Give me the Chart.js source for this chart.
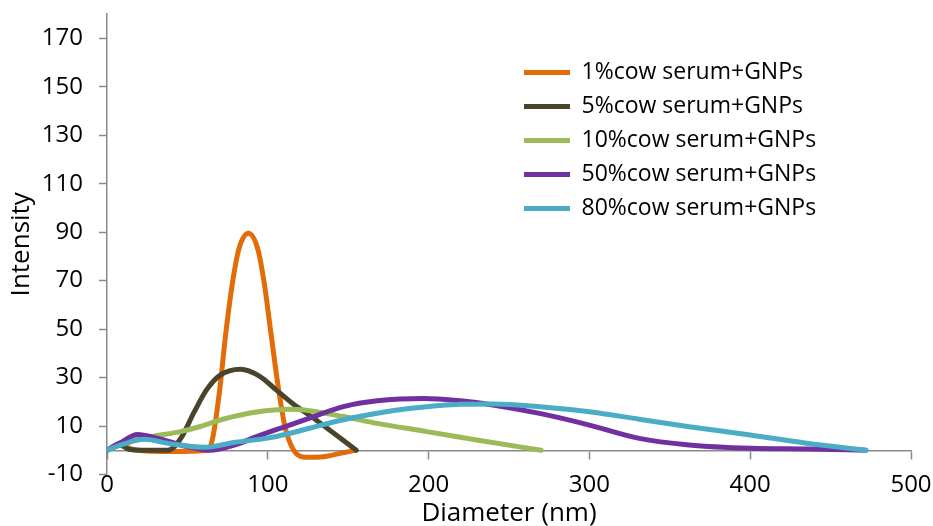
<!DOCTYPE html>
<html>
<head>
<meta charset="utf-8">
<script src="https://cdn.jsdelivr.net/npm/chart.js@4.4.1/dist/chart.umd.min.js"></script>
<style>
  html, body { margin: 0; padding: 0; background: #fff; }
  canvas { display: block; }
</style>
</head>
<body>
<canvas id="chart" width="933" height="526"></canvas>
<script>
// series labels + colours
const seriesNames = [
  "1%cow serum+GNPs",
  "5%cow serum+GNPs",
  "10%cow serum+GNPs",
  "50%cow serum+GNPs",
  "80%cow serum+GNPs"
];
const seriesColors = ["#E36C09", "#4A452A", "#9BBB59", "#7030A0", "#4BACC6"];

// diameter (nm) / intensity
const diam1 = [0, 8, 18, 40, 63, 66, 70, 74, 78, 82, 88, 94, 98, 102, 106.5, 110.7, 116, 124, 133, 145, 154];
const int1  = [0, 2, 0, -0.5, 0, 6, 24.5, 49, 69, 83, 89.5, 82.5, 68, 48, 26, 9.7, 0.1, -2.9, -2.8, -1.3, 0];

const diam2 = [0, 7.5, 14, 25, 38, 46, 54, 62, 70, 83, 95, 105, 115, 130, 155];
const int2  = [0, 2.5, 0.3, 0, 0, 5, 15.5, 25, 30.8, 33.4, 30.5, 25, 19.5, 12.5, 0];

const diam3 = [0, 10, 29, 45, 58, 72, 93, 114, 126, 147, 168, 199, 230, 270];
const int3  = [0, 3, 5.8, 7.6, 9.8, 12.8, 15.8, 16.9, 16.3, 13.9, 11.1, 7.7, 4.2, 0];

const diam4 = [0, 8, 19, 31, 50, 64, 80, 93, 114, 126, 147, 168, 197, 220, 240, 269, 300, 331, 362, 400, 435, 472];
const int4  = [0, 3, 6.5, 5, 1.5, 0, 2.3, 5.6, 10.5, 13.3, 18, 20.4, 21.4, 20.4, 18.7, 15.2, 10.4, 4.9, 2.2, 0.8, 0.5, 0];

const diam5 = [0, 10, 23, 40, 60, 80, 100, 114, 126, 147, 168, 188, 220, 240, 269, 300, 331, 362, 400, 435, 472];
const int5  = [0, 2.5, 4.5, 2.6, 1.2, 3.3, 5, 7, 9.1, 12.6, 15.3, 17.2, 19, 19.1, 18, 15.9, 12.8, 9.7, 6.3, 2.9, 0];

const yTicks = [-10, 10, 30, 50, 70, 90, 110, 130, 150, 170];

const diams = [diam1, diam2, diam3, diam4, diam5];
const ints = [int1, int2, int3, int4, int5];

const axisGray = "#8a8a8a";
const fontFam = "'Open Sans', sans-serif";
Chart.defaults.color = "#000";
Chart.defaults.font.family = fontFam;

// excel draws later series on top, chart.js does the opposite -> flip order
const datasets = seriesNames.map((name, i) => ({
  label: name,
  data: diams[i].map((x, j) => ({ x: x, y: ints[i][j] })),
  borderColor: seriesColors[i],
  backgroundColor: seriesColors[i],
  borderWidth: 5,
  borderCapStyle: "round",
  borderJoinStyle: "round",
  pointRadius: 0,
  pointHoverRadius: 0,
  cubicInterpolationMode: "monotone",
  fill: false,
  order: seriesNames.length - i
}));

// put the legend box inside the plot, upper right
const legendSpot = {
  id: "legendSpot",
  afterLayout(chart) {
    const lg = chart.legend;
    if (!lg) return;
    lg.left = chart.chartArea.left + 406;
    lg.top = chart.chartArea.top + 36;
  }
};

new Chart(document.getElementById("chart"), {
  type: "line",
  data: { datasets: datasets },
  plugins: [legendSpot],
  options: {
    responsive: false,
    animation: false,
    layout: { padding: { left: 0, right: 22, top: 14, bottom: 51.5 } },
    plugins: {
      tooltip: { enabled: false },
      legend: {
        position: "chartArea",
        align: "start",
        reverse: true,
        labels: {
          usePointStyle: true,
          pointStyle: "line",
          pointStyleWidth: 46,
          padding: 11,
          color: "#000",
          font: { size: 23, family: fontFam }
        }
      }
    },
    scales: {
      x: {
        type: "linear",
        position: { y: 0 },
        min: 0,
        max: 500,
        afterFit: (scale) => { scale.paddingLeft = 0; scale.paddingRight = 0; },
        border: { display: true, color: axisGray, width: 1.5 },
        grid: { display: true, drawOnChartArea: false, drawTicks: true, tickLength: 8, color: axisGray, tickWidth: 1.5 },
        ticks: { stepSize: 100, padding: 12, maxRotation: 0, font: { size: 24 } },
        title: {
          display: true,
          text: "Diameter (nm)",
          font: { size: 26, lineHeight: 1.0 },
          padding: { top: -10, bottom: 0 }
        }
      },
      y: {
        type: "linear",
        min: -10,
        max: 180,
        afterBuildTicks: (scale) => { scale.ticks = yTicks.map(v => ({ value: v })); },
        afterFit: (scale) => { scale.width = 107; scale.paddingTop = 0; scale.paddingBottom = 0; },
        border: { display: true, color: axisGray, width: 1.5 },
        grid: { display: true, drawOnChartArea: false, drawTicks: true, tickLength: 8, color: axisGray, tickWidth: 1.5 },
        ticks: { padding: 16, font: { size: 24 }, callback: (v) => String(v) },
        title: {
          display: true,
          text: "Intensity",
          font: { size: 26, lineHeight: 1.0 },
          padding: { top: 9, bottom: 0 }
        }
      }
    }
  }
});
</script>
</body>
</html>
